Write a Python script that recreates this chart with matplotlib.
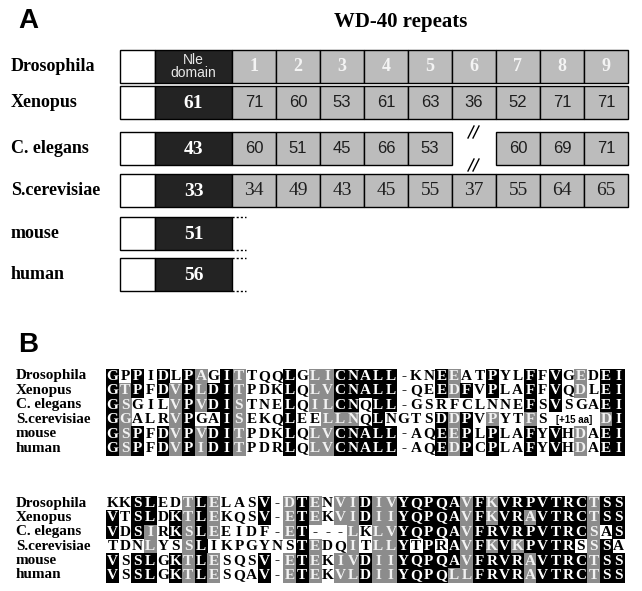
import matplotlib
matplotlib.use("Agg")
import matplotlib.pyplot as plt
from matplotlib.patches import Rectangle

# ---------------- data ----------------
species_a = ["Drosophila", "Xenopus", "C. elegans", "S.cerevisiae", "mouse", "human"]
nle_identity = [None, 61, 43, 33, 51, 56]
repeat_names = ["1", "2", "3", "4", "5", "6", "7", "8", "9"]
xenopus_repeats = [71, 60, 53, 61, 63, 36, 52, 71, 71]
celegans_repeats = [60, 51, 45, 66, 53, None, 60, 69, 71]
scerevisiae_repeats = [34, 49, 43, 45, 55, 37, 55, 64, 65]

species_b = ["Drosophila", "Xenopus", "C. elegans", "S.cerevisiae", "mouse", "human"]

# block 1 ('.' marks columns taken by the insertion note)
block1_seq = [
    "GPPIDLPAGITTQQLGLICNALL-KNEEATPYLFFVGEDEI",
    "GTPFDVPLDITPDKLQLVCNALL-QEEDFVPLAFFVQDLEI",
    "GSGILVPVDISTNELQILCNQLL-GSRFCLNNEFSVSGAEI",
    "GGALRVPGAISEKQLEELLNQLNGTSDDPVPYTFS....DI",
    "GSPFDVPVDITPDKLQLVCNALL-AQEEPLPLAFYVHDAEI",
    "GSPFDVPIDITPDRLQLVCNALL-AQEDPCPLAFYVHDAEI",
]
# k = identical (black), g = similar (grey), w = not conserved
block1_shade = [
    "kwkwkwkgwk" "gwwwkwggkk" "kkkwwwkgww" "kwwkwkwgwkk",
    "kgkwkgkgkk" "gwwwkwggkk" "kkkwwwkgkw" "kwwkwkwgwkk",
    "kgwwwgkgkk" "gwwwkwggkk" "wkkwwwwwww" "wwwkwkwwwkk",
    "kgwwwgkwwk" "gwwwkwwggg" "wkwwwwkgkw" "gwwgwwwwwgk",
    "kgkwkgkgkk" "gwwwkwggkk" "kkkwwwkgkw" "kwwkwkwgwkk",
    "kgkwkgkgkk" "gwwwkwggkk" "kkkwwwkgkw" "kwwkwkwgwkk",
]
block1_insert = (3, 36, 39, "[+15 aa]")

block2_seq = [
    "KKSLEDTLELASV-DTENVIDIVYQPQAVFKVRPVTRCTSS",
    "VTSLDKTLEKQSV-ETEKVIDIIYQPQAVFKVRAVTRCTSS",
    "VDSIRKSLEEIDF-ET---LKLVYQPQAVFRVRPVTRCSAS",
    "TDNLYSSLIKPGYNSTEDQITLLYTPRAVFKVKPVTRSSSA",
    "VSSLGKTLESQSV-ETEKIVDIIYQPQAVFRVRAVTRCTSS",
    "VSSLGKTLESQAV-ETEKVLDIIYQPQLLFRVRAVTRCTSS",
]
block2_shade = [
    "wwkkwwgkgw" "wwkwgkgwgg" "kggkkkkkgk" "gkkkkkkkgkk",
    "kwkkwkgkgw" "wwkwgkgwgg" "kggkkkkkgk" "gkkgkkkkgkk",
    "kwkgwkgkgw" "wwwwgkwwwg" "wggkkkkkgk" "kkkkkkkkgwk",
    "wwwgwwgkww" "wwwwwkgwwg" "wggkwkwkgk" "gkgkkkkwgkw",
    "kwkkwkgkgw" "wwkwgkgwgg" "kggkkkkkgk" "kkkgkkkkgkk",
    "kwkkwkgkgw" "wwkwgkgwgg" "kggkkkkggk" "kkkgkkkkgkk",
]

# ---------------- style ----------------
W, H = 642, 591
DARK = "#232323"
REPEAT = "#bcbcbc"
GREY = "#8c8c8c"
SERIF = "Liberation Serif"
SANS = "Liberation Sans"

fig = plt.figure(figsize=(W / 100, H / 100), dpi=100)
ax = fig.add_axes([0, 0, 1, 1])
ax.set_xlim(0, W)
ax.set_ylim(H, 0)
ax.axis("off")

# ---------------- panel A: domain diagram ----------------
ax.text(18, 21, "A", fontsize=20, fontweight="bold", family=SANS, va="center", ha="left")
ax.text(401, 22, "WD-40 repeats", fontsize=15, fontweight="bold", family=SERIF,
        va="center", ha="center")

row_top = [50, 86, 132, 174, 217, 258]
box_h = 33
x_box = 120
w_white = 35
w_nle = 77
w_rep = 44

for r, name in enumerate(species_a):
    y0 = row_top[r]
    yc = y0 + box_h / 2
    ax.text(11, yc, name, fontsize=13, fontweight="bold", family=SERIF, va="center", ha="left")
    ax.add_patch(Rectangle((x_box, y0), w_white, box_h, facecolor="white",
                           edgecolor="black", lw=1.0))
    x_nle = x_box + w_white
    ax.add_patch(Rectangle((x_nle, y0), w_nle, box_h, facecolor=DARK,
                           edgecolor="black", lw=1.0))
    if nle_identity[r] is None:
        ax.text(x_nle + w_nle / 2, yc, "Nle\ndomain", fontsize=10, family=SANS,
                color="#e8e8e8", va="center", ha="center", linespacing=0.9)
    else:
        ax.text(x_nle + w_nle / 2, yc + 1, str(nle_identity[r]), fontsize=14,
                fontweight="bold", family=SERIF, color="white", va="center", ha="center")

    x_rep0 = x_nle + w_nle
    if name in ("mouse", "human"):
        for yy in (y0, y0 + box_h):
            ax.plot([x_rep0, x_rep0 + 14], [yy, yy], color="black", lw=1.0,
                    ls=(0, (1.5, 1.5)))
        continue

    if name == "Drosophila":
        labels, fam, size, col, wt = repeat_names, SERIF, 13, "#f4f4f4", "bold"
    elif name == "Xenopus":
        labels, fam, size, col, wt = xenopus_repeats, SANS, 12, "#1e1e1e", "normal"
    elif name == "C. elegans":
        labels, fam, size, col, wt = celegans_repeats, SANS, 12, "#1e1e1e", "normal"
    else:
        labels, fam, size, col, wt = scerevisiae_repeats, SERIF, 14, "#1e1e1e", "normal"

    for i, lab in enumerate(labels):
        xr = x_rep0 + i * w_rep
        if lab is None:
            # missing repeat: open gap with break marks
            xm = xr + w_rep / 2
            for yy in (y0, y0 + box_h):
                for dx in (-3, 2):
                    ax.plot([xm + dx - 3, xm + dx + 3], [yy + 6, yy - 6],
                            color="black", lw=1.0)
            continue
        ax.add_patch(Rectangle((xr, y0), w_rep, box_h, facecolor=REPEAT,
                               edgecolor="black", lw=1.0))
        ax.text(xr + w_rep / 2, yc, str(lab), fontsize=size, family=fam, color=col,
                fontweight=wt, va="center", ha="center")

# ---------------- panel B: alignment ----------------
ax.text(18, 345, "B", fontsize=20, fontweight="bold", family=SANS, va="center", ha="left")

x_seq = 106
cw = 12.66
rh = 14.4
block_y = [376, 503]
blocks = [(block1_seq, block1_shade, block1_insert), (block2_seq, block2_shade, None)]

for (seqs, shades, insert), yb in zip(blocks, block_y):
    for r, (seq, shade) in enumerate(zip(seqs, shades)):
        yc = yb + r * rh
        ax.text(16, yc, species_b[r], fontsize=10.9, fontweight="bold", family=SERIF,
                va="center", ha="left")
        for c, (aa, s) in enumerate(zip(seq, shade)):
            x0 = x_seq + c * cw
            if s == "k":
                fc, tc = "black", "white"
            elif s == "g":
                fc, tc = GREY, "#f2f2f2"
            else:
                fc, tc = None, "black"
            if fc is not None:
                ax.add_patch(Rectangle((x0, yc - rh / 2), cw + 0.3, rh + 0.3,
                                       facecolor=fc, edgecolor="none"))
            if aa != ".":
                ax.text(x0 + cw / 2, yc + 0.5, aa, fontsize=11, fontweight="bold",
                        family=SERIF, color=tc, va="center", ha="center")
    if insert is not None:
        r, c0, c1, note = insert
        ax.text(x_seq + (c0 - 1 + c1) / 2 * cw, yb + r * rh + 0.5, note, fontsize=7,
                fontweight="bold", family=SANS, va="center", ha="center")

fig.savefig("out.png", dpi=100)
